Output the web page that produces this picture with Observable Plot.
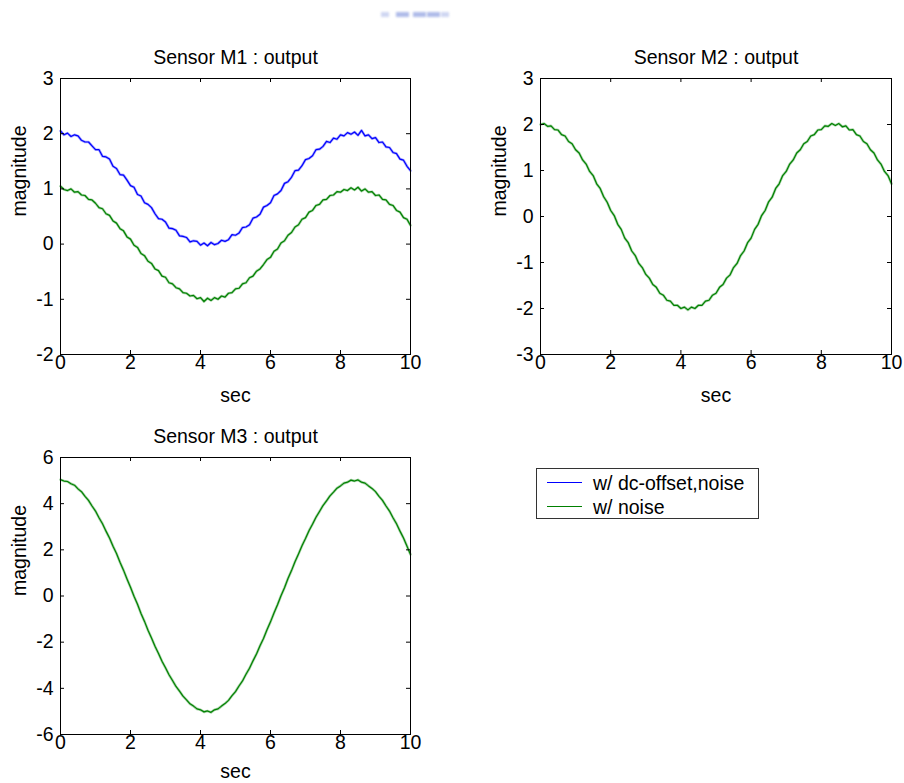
<!DOCTYPE html>
<html><head><meta charset="utf-8">
<script src="https://cdn.jsdelivr.net/npm/d3@7"></script>
<script src="https://cdn.jsdelivr.net/npm/@observablehq/plot@0.6"></script>
<style>
body{margin:0;background:#fff;}
#root{position:relative;width:904px;height:783px;overflow:hidden;background:#fff;font-family:"Liberation Sans",Arial,sans-serif;}
.panel{position:absolute;}
#legend{position:absolute;left:536px;top:468px;width:223px;height:51px;box-sizing:border-box;border:1px solid #333;background:#fff;font-size:19.5px;color:#000;}
.lg-line{position:absolute;left:10px;width:35px;height:0;border-top:1px solid;}
.lg-text{position:absolute;left:56px;line-height:20px;white-space:nowrap;}
.smudge{position:absolute;top:12px;width:13px;height:5px;background:rgba(150,165,225,0.75);filter:blur(1.2px);}
</style>
</head><body>
<div id="root">
<div class="smudge" style="left:381px;width:8px;opacity:0.6"></div>
<div class="smudge" style="left:396px"></div>
<div class="smudge" style="left:413px"></div>
<div class="smudge" style="left:427px"></div>
<div class="smudge" style="left:441px;width:8px;opacity:0.6"></div>
</div>
<script>
// time axis (sec)
const t = [0,0.1,0.2,0.3,0.4,0.5,0.6,0.7,0.8,0.9,
1,1.1,1.2,1.3,1.4,1.5,1.6,1.7,1.8,1.9,
2,2.1,2.2,2.3,2.4,2.5,2.6,2.7,2.8,2.9,
3,3.1,3.2,3.3,3.4,3.5,3.6,3.7,3.8,3.9,
4,4.1,4.2,4.3,4.4,4.5,4.6,4.7,4.8,4.9,
5,5.1,5.2,5.3,5.4,5.5,5.6,5.7,5.8,5.9,
6,6.1,6.2,6.3,6.4,6.5,6.6,6.7,6.8,6.9,
7,7.1,7.2,7.3,7.4,7.5,7.6,7.7,7.8,7.9,
8,8.1,8.2,8.3,8.4,8.5,8.6,8.7,8.8,8.9,
9,9.1,9.2,9.3,9.4,9.5,9.6,9.7,9.8,9.9,
10];

// Sensor M1, w/ dc-offset,noise (blue)
const m1Offset = [2.05,1.98,2.01,1.95,1.98,1.96,1.88,1.85,1.85,1.78,
1.71,1.71,1.59,1.58,1.54,1.41,1.37,1.26,1.25,1.16,
1.06,1.03,0.90,0.87,0.75,0.72,0.66,0.55,0.46,0.45,
0.40,0.29,0.28,0.25,0.15,0.14,0.12,0.04,0.06,0.05,
-0.02,0.02,-0.03,0.03,-0.01,0.01,0.07,0.05,0.08,0.17,
0.16,0.20,0.30,0.31,0.35,0.47,0.49,0.54,0.67,0.70,
0.75,0.88,0.91,0.97,1.10,1.13,1.21,1.33,1.34,1.42,
1.53,1.55,1.60,1.71,1.72,1.77,1.86,1.84,1.92,1.90,
1.98,1.96,2.02,1.99,2.03,1.97,2.06,1.96,1.98,1.91,
1.93,1.84,1.85,1.76,1.75,1.66,1.64,1.54,1.52,1.41,
1.33];

// Sensor M1, w/ noise (green)
const m1Noise = [1.05,0.99,0.97,1.00,0.94,0.95,0.89,0.88,0.81,0.80,
0.74,0.66,0.64,0.55,0.52,0.42,0.38,0.28,0.24,0.13,
0.09,-0.02,-0.06,-0.17,-0.21,-0.31,-0.35,-0.45,-0.48,-0.58,
-0.60,-0.70,-0.72,-0.79,-0.81,-0.88,-0.89,-0.94,-0.93,-0.99,
-0.97,-1.04,-0.98,-1.02,-0.97,-1.00,-0.94,-0.96,-0.89,-0.88,
-0.81,-0.80,-0.72,-0.70,-0.61,-0.58,-0.49,-0.45,-0.37,-0.28,
-0.24,-0.13,-0.09,0.02,0.06,0.16,0.21,0.31,0.35,0.45,
0.48,0.58,0.61,0.70,0.72,0.80,0.81,0.88,0.89,0.95,
0.94,0.99,0.97,1.02,0.98,1.03,0.96,1.00,0.94,0.95,
0.88,0.89,0.81,0.80,0.72,0.70,0.61,0.58,0.48,0.45,
0.34];

// Sensor M2, w/ noise (green)
const m2Noise = [2.00,2.02,1.96,1.97,1.89,1.88,1.78,1.75,1.63,1.58,
1.45,1.38,1.23,1.14,0.98,0.89,0.71,0.61,0.43,0.31,
0.13,0.02,-0.17,-0.28,-0.47,-0.57,-0.75,-0.85,-1.02,-1.11,
-1.26,-1.34,-1.48,-1.54,-1.67,-1.71,-1.82,-1.84,-1.93,-1.93,
-2.00,-1.97,-2.03,-1.97,-2.00,-1.93,-1.93,-1.84,-1.82,-1.71,
-1.67,-1.54,-1.48,-1.34,-1.27,-1.11,-1.02,-0.85,-0.75,-0.57,
-0.47,-0.28,-0.17,0.02,0.13,0.32,0.42,0.61,0.71,0.89,
0.98,1.14,1.23,1.38,1.45,1.58,1.63,1.75,1.78,1.88,
1.89,1.97,1.96,2.02,1.98,2.02,1.95,1.97,1.88,1.89,
1.78,1.75,1.63,1.58,1.45,1.38,1.23,1.14,0.98,0.89,
0.71];

// Sensor M3, w/ noise (green)
const m3Noise = [5.04,4.98,4.96,4.86,4.80,4.64,4.52,4.32,4.14,3.90,
3.68,3.39,3.13,2.81,2.51,2.16,1.84,1.46,1.12,0.74,
0.38,-0.01,-0.36,-0.76,-1.10,-1.48,-1.82,-2.18,-2.49,-2.83,
-3.11,-3.41,-3.66,-3.92,-4.12,-4.34,-4.50,-4.67,-4.77,-4.89,
-4.93,-5.02,-4.98,-5.04,-4.93,-4.89,-4.77,-4.66,-4.52,-4.32,
-4.14,-3.90,-3.68,-3.39,-3.13,-2.81,-2.51,-2.16,-1.84,-1.46,
-1.12,-0.74,-0.38,0.01,0.36,0.76,1.10,1.48,1.82,2.18,
2.49,2.83,3.11,3.41,3.66,3.92,4.12,4.34,4.50,4.67,
4.77,4.89,4.93,5.02,4.98,5.03,4.93,4.89,4.77,4.66,
4.52,4.32,4.14,3.90,3.68,3.39,3.13,2.81,2.51,2.16,
1.80];

const xTicks = [0,2,4,6,8,10];
const m1Ticks = [-2,-1,0,1,2,3];
const m2Ticks = [-3,-2,-1,0,1,2,3];
const m3Ticks = [-6,-4,-2,0,2,4,6];

const titles = ["Sensor M1 : output","Sensor M2 : output","Sensor M3 : output"];
const xLabel = "sec";
const yLabel = "magnitude";
const legendLabels = ["w/ dc-offset,noise","w/ noise"];
const colors = {offset:"#0000ff", noise:"#008000"};

const FONT = '"Liberation Sans", Arial, Helvetica, sans-serif';
const FS = 19.5;
const fmt = d => String(d);

function panel({title, yTicks, series, left, top, width, height, mLeft, mRight, mTop, mBottom, secDy}) {
  const fw = width - mLeft - mRight, fh = height - mTop - mBottom;
  const tk = 4;
  const lineMarks = [];
  series.forEach(s => {
    const data = t.map((x, i) => ({t: x, v: s.values[i]}));
    lineMarks.push(Plot.line(data, {x: "t", y: "v", stroke: s.color, strokeWidth: 2.6, strokeOpacity: 0.35}));
    lineMarks.push(Plot.line(data, {x: "t", y: "v", stroke: s.color, strokeWidth: 1.2}));
  });
  const marks = [
    ...lineMarks,
    Plot.ruleX(xTicks, {stroke: "#000", insetTop: fh - tk}),
    Plot.ruleX(xTicks, {stroke: "#000", insetBottom: fh - tk}),
    Plot.ruleY(yTicks, {stroke: "#000", insetRight: fw - tk}),
    Plot.ruleY(yTicks, {stroke: "#000", insetLeft: fw - tk}),
    Plot.frame({stroke: "#000"}),
    Plot.axisX(xTicks, {tickSize: 0, tickPadding: 1, label: null, fontSize: FS, fill: "#000", tickFormat: fmt}),
    Plot.axisY(yTicks, {tickSize: 0, tickPadding: 7, label: null, fontSize: FS, fill: "#000", tickFormat: fmt}),
    Plot.text([title], {text: d => d, frameAnchor: "top", lineAnchor: "middle", dy: -21, fontSize: FS, fill: "#000"}),
    Plot.text([xLabel], {text: d => d, frameAnchor: "bottom", lineAnchor: "middle", dy: secDy, fontSize: FS, fill: "#000"}),
    Plot.text([yLabel], {text: d => d, frameAnchor: "left", lineAnchor: "middle", rotate: -90, dx: -41, fontSize: FS, fill: "#000"})
  ];
  const chart = Plot.plot({
    width, height,
    marginLeft: mLeft, marginRight: mRight, marginTop: mTop, marginBottom: mBottom,
    x: {domain: [0, 10], axis: null},
    y: {domain: [yTicks[0], yTicks[yTicks.length - 1]], axis: null},
    style: {fontFamily: FONT, fontSize: FS + "px", color: "#000", background: "transparent", overflow: "visible"},
    marks
  });
  const wrap = document.createElement("div");
  wrap.className = "panel";
  wrap.style.left = left + "px";
  wrap.style.top = top + "px";
  wrap.appendChild(chart);
  document.getElementById("root").appendChild(wrap);
}

panel({title: titles[0], yTicks: m1Ticks,
  series: [{values: m1Offset, color: colors.offset}, {values: m1Noise, color: colors.noise}],
  left: 0, top: 0, width: 440, height: 420, mLeft: 60, mRight: 30, mTop: 78, mBottom: 66, secDy: 41});
panel({title: titles[1], yTicks: m2Ticks,
  series: [{values: m2Noise, color: colors.noise}],
  left: 480, top: 0, width: 424, height: 420, mLeft: 60, mRight: 13, mTop: 78, mBottom: 66, secDy: 41});
panel({title: titles[2], yTicks: m3Ticks,
  series: [{values: m3Noise, color: colors.noise}],
  left: 0, top: 400, width: 440, height: 383, mLeft: 60, mRight: 30, mTop: 57, mBottom: 49, secDy: 37});

// legend
const lg = document.createElement("div");
lg.id = "legend";
const lgColors = [colors.offset, colors.noise];
legendLabels.forEach((lab, i) => {
  const ln = document.createElement("div");
  ln.className = "lg-line";
  ln.style.borderTopColor = lgColors[i];
  ln.style.top = (13 + i * 24) + "px";
  lg.appendChild(ln);
  const tx = document.createElement("div");
  tx.className = "lg-text";
  tx.style.top = (4 + i * 24) + "px";
  tx.textContent = lab;
  lg.appendChild(tx);
});
document.getElementById("root").appendChild(lg);
</script>
</body></html>
